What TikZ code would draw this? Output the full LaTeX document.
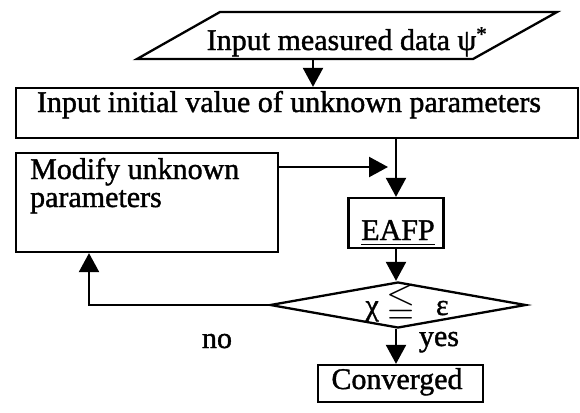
\documentclass[tikz,border=0pt]{standalone}
\usepackage{fontspec}
\usepackage{amssymb}
\usepackage{graphicx}
\setmainfont{Liberation Serif}[FakeBold=1.3]
\usetikzlibrary{arrows.meta,shapes.geometric}
\begin{document}
\begin{tikzpicture}[x=1pt,y=-1pt,
  line width=2.3pt,
  every node/.style={font=\fontsize{30}{28}\selectfont, inner sep=0pt},
  box/.style={draw},
  lbl/.style={anchor=base},
  arr/.style={-{Triangle[length=19pt,width=20pt]}}]
\useasboundingbox (0,0) rectangle (580,412);
% input parallelogram
\draw (137,59) -- (220,12) -- (557,12) -- (473,59) -- cycle;
\node[lbl] (inp) at (347,50) {Input measured data ψ\textsuperscript{*}};
\coordinate (pb) at (313,59);
% initial value box
\node[box, minimum width=562pt, minimum height=50pt] (init) at (297,113) {};
\node[lbl] (initt) at (289,112) {Input initial value of unknown parameters};
% modify box
\node[box, minimum width=262pt, minimum height=99pt] (mod) at (147,202.5) {};
\node[anchor=base west, align=left] (modt) at (29,207) {Modify unknown\\parameters};
% EAFP box and text
\node[box, minimum width=95pt, minimum height=50pt] (eafp) at (396,223) {};
\node[lbl] (eafpt) at (398,240) {\underline{EAFP}};
% decision diamond
\node[draw, diamond, aspect=5.5, minimum width=256pt, minimum height=46pt] (dia) at (398,305) {};
\node[lbl] (diat) at (407,315) {χ\hspace{8pt}\raisebox{3pt}{\scalebox{1.25}{$\leqq$}}\hspace{20pt}ε};
% converged
\node[box, minimum width=165pt, minimum height=37pt] (conv) at (400.5,383.5) {};
\node[lbl] (convt) at (397,389) {Converged};
% connectors
\draw[arr] (pb) -- (pb |- init.north);
\coordinate (j) at (388,167);
\draw[arr] (mod.east |- j) -- (j);
\draw[arr] (init.south -| eafp.north) -- (eafp.north);
\draw[arr] (eafp.south) -- (eafp.south |- dia.north);
\coordinate (fb) at (89,0);
\draw[arr] (dia.west) -| (fb |- mod.south);
\draw[arr] (dia.south -| eafp.south) -- (conv.north -| eafp.south);
% labels
\node[lbl] (no) at (217,348) {no};
\node[lbl] (yes) at (439,346) {yes};
\end{tikzpicture}
\end{document}
